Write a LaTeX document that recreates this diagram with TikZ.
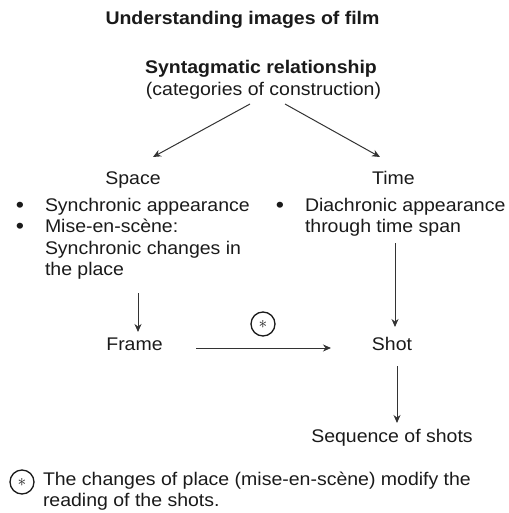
\documentclass[tikz,border=0pt]{standalone}
\usepackage{fontspec}
\setmainfont{Liberation Sans}[FakeStretch=1.065]
\usetikzlibrary{arrows.meta}
\definecolor{ink}{HTML}{1A1A1A}
\definecolor{wire}{HTML}{333333}
\tikzset{
  txt/.style={inner sep=0pt, outer sep=0pt, text=ink, font=\fontsize{18.3}{21.5}\selectfont},
  bold/.style={txt, font=\fontsize{18.3}{21.5}\selectfont\bfseries},
  dot/.style={txt, anchor=base, font=\fontsize{22}{22}\selectfont},
  link/.style={draw=wire, line width=1pt, -{Stealth[length=8pt,width=7pt,inset=2.5pt]}},
  star/.style={circle, draw=ink, line width=1.3pt, minimum size=24pt, inner sep=0pt,
    text=ink, font=\fontsize{17}{17}\selectfont},
}
\begin{document}
\begin{tikzpicture}[x=1pt, y=-1pt]
\useasboundingbox (0,0) rectangle (508,513);

% headings
\node[bold, anchor=base] (title) at (242.5,25) {Understanding images of film};
\node[bold, anchor=base] (synt) at (261,74) {Syntagmatic relationship};
\node[txt, anchor=base] (cat) at (263.5,96) {(categories of construction)};

% the two categories
\node[txt, anchor=base] (space) at (133,184.5) {Space};
\node[txt, anchor=base] (time) at (393.5,184.5) {Time};

% space list
\node[dot] (b1) at (20,212) {•};
\node[dot] (b2) at (20,233.5) {•};
\node[txt, anchor=base west] (s1) at (45,211) {Synchronic appearance};
\node[txt, anchor=base west] (s2) at (45,232.5) {Mise-en-scène:};
\node[txt, anchor=base west] (s3) at (45,254) {Synchronic changes in};
\node[txt, anchor=base west] (s4) at (45,275.5) {the place};

% time list
\node[dot] (b3) at (280,212) {•};
\node[txt, anchor=base west] (t1) at (305,211) {Diachronic appearance};
\node[txt, anchor=base west] (t2) at (305,232.5) {through time span};

% lower level
\node[txt, anchor=base] (frame) at (134.5,350) {Frame};
\node[txt, anchor=base] (shot) at (392,350) {Shot};
\node[txt, anchor=base] (seq) at (392,442) {Sequence of shots};
\node[star] (mark) at (263,324) {$\ast$};

% footnote
\node[star] (noteMark) at (22,482) {$\ast$};
\node[txt, anchor=base west] (note1) at (43,485) {The changes of place (mise-en-scène) modify the};
\node[txt, anchor=base west] (note2) at (43,506.5) {reading of the shots.};

% connector end points
\coordinate (catL) at (250,104);
\coordinate (catR) at (285,104);
\coordinate (spaceTop) at (153,157);
\coordinate (timeTop) at (380,157);
\coordinate (placeEnd) at (138,293);
\coordinate (frameTop) at (138,332);
\coordinate (spanEnd) at (395,243);
\coordinate (shotTop) at (395,327);
\coordinate (frameR) at (196,348);
\coordinate (shotL) at (331,348);
\coordinate (shotBot) at (397,366);
\coordinate (seqTop) at (397,423);

% connectors
\draw[link] (catL) -- (spaceTop);
\draw[link] (catR) -- (timeTop);
\draw[link] (placeEnd) -- (frameTop);
\draw[link] (spanEnd) -- (shotTop);
\draw[link] (frameR) -- (shotL);
\draw[link] (shotBot) -- (seqTop);
\end{tikzpicture}
\end{document}
